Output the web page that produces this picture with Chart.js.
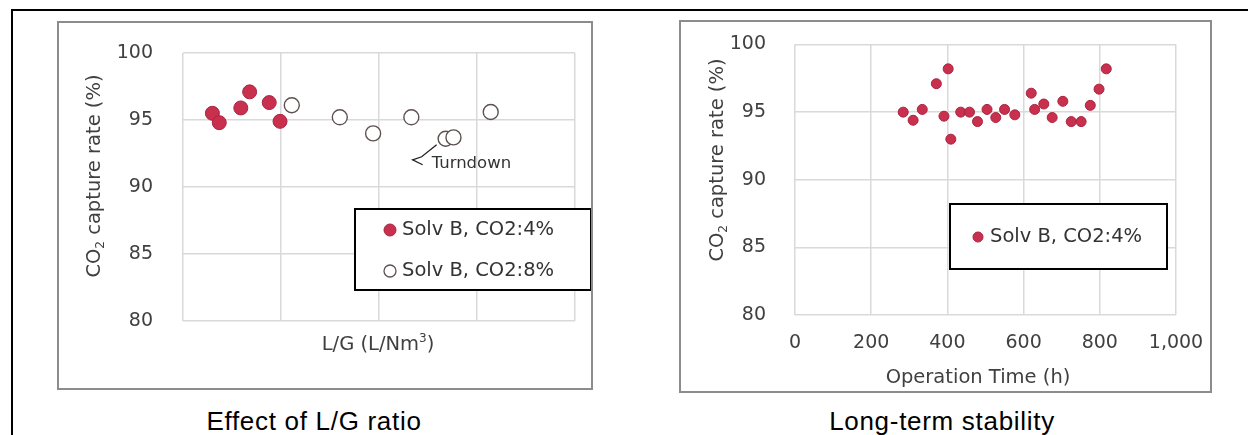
<!DOCTYPE html>
<html>
<head>
<meta charset="utf-8">
<title>CO2 capture rate</title>
<script src="https://cdn.jsdelivr.net/npm/chart.js@4.4.1/dist/chart.umd.min.js"></script>
<style>
    html, body { margin: 0; padding: 0; background: #fff; }
    body { width: 1248px; height: 435px; position: relative; overflow: hidden; font-family: "DejaVu Sans", sans-serif; }
    .frameTop { position: absolute; left: 11px; top: 9px; width: 1237px; height: 0; border-top: 2px solid #000; }
    .frameLeft { position: absolute; left: 11px; top: 9px; width: 0; height: 426px; border-left: 2px solid #000; }
    .panel { position: absolute; border: 2px solid #8c8c8c; box-sizing: border-box; }
    #leftPanel { left: 57px; top: 21px; width: 536px; height: 369px; }
    #rightPanel { left: 679px; top: 20px; width: 533px; height: 373px; }
    canvas { position: absolute; }
    #lgChart { left: 58px; top: 22px; }
    #timeChart { left: 681px; top: 21px; }
    .caption { position: absolute; top: 406px; height: 30px; line-height: 30px; text-align: center; letter-spacing: 0.7px;
               font-family: "Liberation Sans Narrow", "Liberation Sans", sans-serif; font-size: 26px; color: #000; }
</style>
</head>
<body>
<div class="frameTop"></div>
<div class="frameLeft"></div>
<div class="panel" id="leftPanel"></div>
<div class="panel" id="rightPanel"></div>
<canvas id="lgChart" width="533" height="366"></canvas>
<canvas id="timeChart" width="529" height="371"></canvas>
<div class="caption" style="left:164px;width:300px;">Effect of L/G ratio</div>
<div class="caption" style="left:792px;width:300px;">Long-term stability</div>

<script>
// ✅ Data
// Left chart: L/G has no tick labels, so x is in grid units (0..4)
const lgFilledX = [0.30, 0.37, 0.59, 0.68, 0.88, 0.99];
const lgFilledY = [95.5, 94.8, 95.9, 97.1, 96.3, 94.9];
const lgOpenX = [1.11, 1.60, 1.94, 2.33, 2.68, 2.76, 3.14];
const lgOpenY = [96.1, 95.2, 94.0, 95.2, 93.6, 93.7, 95.6];
const lgGridX = [0, 1, 2, 3, 4];

// Right chart: operation time (h) vs capture rate (%)
const timeH = [284, 310, 334, 371, 391, 402, 409, 435, 458, 479, 504, 527,
               550, 577, 620, 629, 653, 675, 703, 725, 751, 775, 798, 817];
const timeRate = [95.0, 94.4, 95.2, 97.1, 94.7, 98.2, 93.0, 95.0, 95.0, 94.3, 95.2, 94.6,
                  95.2, 94.8, 96.4, 95.2, 95.6, 94.6, 95.8, 94.3, 94.3, 95.5, 96.7, 98.2];
const timeTicks = [0, 200, 400, 600, 800, 1000];
const rateTicks = [80, 85, 90, 95, 100];

const seriesNames = ["Solv B, CO2:4%", "Solv B, CO2:8%"];
const turndownLabel = "Turndown";

const RED = "#c8304e";
const RED_EDGE = "#a82442";
const OPEN_EDGE = "#5e5050";
const TEXT = "#404040";
const GRID = "#d9d9d9";
const FONT = "DejaVu Sans";

function toPoints(xs, ys) {
    return xs.map((x, i) => ({ x: x, y: ys[i] }));
}

function fixedTicks(values) {
    return function (scale) {
        scale.ticks = values.map((v) => ({ value: v }));
    };
}

// ✅ Rotated y title with the subscript 2
function drawYTitle(ctx, cx, cy) {
    const parts = [
        { t: "CO", f: "19.5px " + FONT, dy: 0 },
        { t: "2", f: "12px " + FONT, dy: 6 },
        { t: " capture rate (%)", f: "19.5px " + FONT, dy: 0 }
    ];
    ctx.save();
    ctx.translate(cx, cy);
    ctx.rotate(-Math.PI / 2);
    ctx.fillStyle = TEXT;
    ctx.textBaseline = "middle";
    ctx.textAlign = "left";
    let total = 0;
    parts.forEach((p) => { ctx.font = p.f; p.w = ctx.measureText(p.t).width; total += p.w; });
    let x = -total / 2;
    parts.forEach((p) => { ctx.font = p.f; ctx.fillText(p.t, x, p.dy); x += p.w; });
    ctx.restore();
}

function drawTextParts(ctx, parts, cx, cy) {
    ctx.save();
    ctx.fillStyle = TEXT;
    ctx.textBaseline = "middle";
    ctx.textAlign = "left";
    let total = 0;
    parts.forEach((p) => { ctx.font = p.f; p.w = ctx.measureText(p.t).width; total += p.w; });
    let x = cx - total / 2;
    parts.forEach((p) => { ctx.font = p.f; ctx.fillText(p.t, x, cy + p.dy); x += p.w; });
    ctx.restore();
}

// ✅ Legend box drawn inside the plot
function drawLegendBox(ctx, box, entries) {
    ctx.save();
    ctx.fillStyle = "#fff";
    ctx.fillRect(box.x, box.y, box.w, box.h);
    ctx.strokeStyle = "#000";
    ctx.lineWidth = 2;
    ctx.strokeRect(box.x, box.y, box.w, box.h);
    entries.forEach((e) => {
        ctx.beginPath();
        ctx.arc(box.mx, e.y, e.r, 0, Math.PI * 2);
        ctx.fillStyle = e.fill;
        ctx.fill();
        ctx.lineWidth = e.lw;
        ctx.strokeStyle = e.edge;
        ctx.stroke();
        ctx.font = "19.5px " + FONT;
        ctx.fillStyle = "#333";
        ctx.textBaseline = "middle";
        ctx.textAlign = "left";
        ctx.fillText(e.text, box.tx, e.y);
    });
    ctx.restore();
}

const lgDecor = {
    id: "lgDecor",
    afterDraw(chart) {
        const ctx = chart.ctx;
        drawYTitle(ctx, 37, 154);
        drawTextParts(ctx, [
            { t: "L/G (L/Nm", f: "19.5px " + FONT, dy: 0 },
            { t: "3", f: "12px " + FONT, dy: -6 },
            { t: ")", f: "19.5px " + FONT, dy: 0 }
        ], 320, 323);

        // Turndown note, tied to the turndown point
        const px = chart.scales.x.getPixelForValue(lgOpenX[4]);
        const py = chart.scales.y.getPixelForValue(lgOpenY[4]);
        ctx.save();
        ctx.strokeStyle = "#222";
        ctx.lineWidth = 1.3;
        ctx.beginPath();
        ctx.moveTo(px - 9, py + 6);
        ctx.lineTo(px - 24, py + 18);
        ctx.lineTo(px - 33, py + 21);
        ctx.lineTo(px - 23, py + 26);
        ctx.stroke();
        ctx.font = "16.5px " + FONT;
        ctx.fillStyle = "#333";
        ctx.textBaseline = "middle";
        ctx.textAlign = "left";
        ctx.fillText(turndownLabel, px - 14, py + 25);
        ctx.restore();

        drawLegendBox(ctx, { x: 297, y: 187, w: 236, h: 81, mx: 332, tx: 344 }, [
            { y: 208, r: 6, fill: RED, edge: RED_EDGE, lw: 1, text: seriesNames[0] },
            { y: 249, r: 6, fill: "#fff", edge: OPEN_EDGE, lw: 1.3, text: seriesNames[1] }
        ]);
    }
};

const timeDecor = {
    id: "timeDecor",
    afterDraw(chart) {
        const ctx = chart.ctx;
        drawYTitle(ctx, 37, 139);
        drawTextParts(ctx, [{ t: "Operation Time (h)", f: "19.5px " + FONT, dy: 0 }], 297, 357);
        drawLegendBox(ctx, { x: 269, y: 183, w: 217, h: 65, mx: 297, tx: 309 }, [
            { y: 216, r: 5, fill: RED, edge: RED_EDGE, lw: 1, text: seriesNames[0] }
        ]);
    }
};

function yScale(width, pad) {
    return {
        type: "linear",
        min: 80,
        max: 100,
        afterBuildTicks: fixedTicks(rateTicks),
        ticks: { padding: pad, color: TEXT, font: { family: FONT, size: 19 } },
        grid: { color: GRID, lineWidth: 1.5, drawTicks: false },
        border: { display: false },
        afterFit: (s) => {
            s.width = width;
            // the tick padding should not push the plot down
            s.paddingTop = 12;
            s.paddingBottom = 12;
        }
    };
}

// ✅ Initialize the L/G chart
function initializeLgChart() {
    const canvas = document.getElementById("lgChart");
    if (!canvas) {
        console.error("❌ Error: L/G canvas not found!");
        return;
    }
    new Chart(canvas.getContext("2d"), {
        type: "scatter",
        data: {
            datasets: [{
                label: seriesNames[0],
                data: toPoints(lgFilledX, lgFilledY),
                pointRadius: 7,
                backgroundColor: RED,
                borderColor: RED_EDGE,
                borderWidth: 1
            }, {
                label: seriesNames[1],
                data: toPoints(lgOpenX, lgOpenY),
                pointRadius: 7.5,
                backgroundColor: "#fff",
                borderColor: OPEN_EDGE,
                borderWidth: 1.4
            }]
        },
        options: {
            responsive: false,
            animation: false,
            layout: { padding: { left: 0, top: 31, right: 16, bottom: 0 } },
            plugins: { legend: { display: false }, tooltip: { enabled: false } },
            scales: {
                x: {
                    type: "linear",
                    min: 0,
                    max: 4,
                    afterBuildTicks: fixedTicks(lgGridX),
                    ticks: { display: false },
                    grid: { color: GRID, lineWidth: 1.5, drawTicks: false },
                    border: { display: false },
                    afterFit: (s) => { s.height = 67; s.paddingLeft = 0; s.paddingRight = 0; }
                },
                y: yScale(125, 30)
            }
        },
        plugins: [lgDecor]
    });
}

// ✅ Initialize the operation time chart
function initializeTimeChart() {
    const canvas = document.getElementById("timeChart");
    if (!canvas) {
        console.error("❌ Error: time canvas not found!");
        return;
    }
    new Chart(canvas.getContext("2d"), {
        type: "scatter",
        data: {
            datasets: [{
                label: seriesNames[0],
                data: toPoints(timeH, timeRate),
                pointRadius: 5,
                backgroundColor: RED,
                borderColor: RED_EDGE,
                borderWidth: 1
            }]
        },
        options: {
            responsive: false,
            animation: false,
            layout: { padding: { left: 0, top: 23.5, right: 34, bottom: 0 } },
            plugins: { legend: { display: false }, tooltip: { enabled: false } },
            scales: {
                x: {
                    type: "linear",
                    min: 0,
                    max: 1000,
                    afterBuildTicks: fixedTicks(timeTicks),
                    ticks: { padding: 17, color: TEXT, font: { family: FONT, size: 19 } },
                    grid: { color: GRID, lineWidth: 1.5, drawTicks: false },
                    border: { display: false },
                    afterFit: (s) => { s.height = 77; s.paddingLeft = 0; s.paddingRight = 0; }
                },
                y: yScale(114, 29)
            }
        },
        plugins: [timeDecor]
    });
}

initializeLgChart();
initializeTimeChart();
</script>
</body>
</html>
